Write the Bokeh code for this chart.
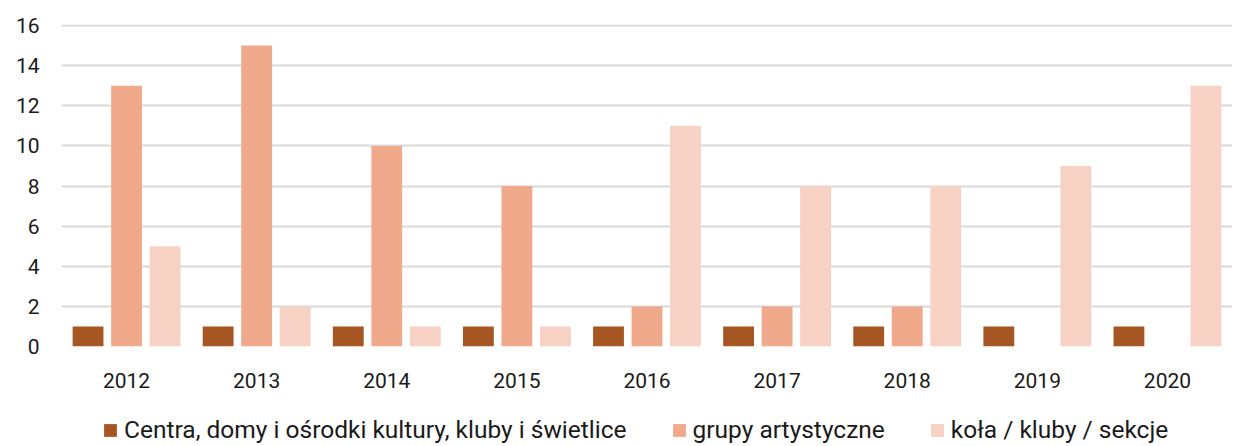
from bokeh.plotting import figure
from bokeh.models import Range1d, FactorRange, Legend, ColumnDataSource
from bokeh.layouts import column
from bokeh.transform import dodge
from bokeh.embed import file_html
from bokeh.resources import INLINE

years = ["2012", "2013", "2014", "2015", "2016", "2017", "2018", "2019", "2020"]
centra = [1, 1, 1, 1, 1, 1, 1, 1, 1]
grupy = [13, 15, 10, 8, 2, 2, 2, 0, 0]
kola = [5, 2, 1, 1, 11, 8, 8, 9, 13]
series_names = ["Centra, domy i ośrodki kultury, kluby i świetlice",
                "grupy artystyczne", "koła / kluby / sekcje"]
colors = ["#A65623", "#F0A98B", "#F7D1C3"]
keys = ["centra", "grupy", "kola"]

src = ColumnDataSource(dict(years=years, centra=centra, grupy=grupy, kola=kola))

p = figure(x_range=FactorRange(factors=years, range_padding=0), y_range=Range1d(0, 16.05),
           width=1232, height=396, output_backend="svg", toolbar_location=None,
           min_border_left=61, min_border_right=0, min_border_top=24, min_border_bottom=50)

off = 0.296
w = 0.237
for i, (k, c) in enumerate(zip(keys, colors)):
    p.vbar(x=dodge("years", (i - 1) * off, range=p.x_range), top=k, width=w,
           source=src, color=c, line_color=None)

p.outline_line_color = None
p.xgrid.grid_line_color = None
p.ygrid.grid_line_color = "#d9d9d9"
p.ygrid.grid_line_width = 2
p.yaxis.ticker = [0, 2, 4, 6, 8, 10, 12, 14, 16]
for ax in (p.xaxis[0], p.yaxis[0]):
    ax.axis_line_color = None
    ax.major_tick_line_color = None
    ax.minor_tick_line_color = None
    ax.major_label_text_font = "Roboto"
    ax.major_label_text_font_size = "21px"
    ax.major_label_text_color = "#1a1a1a"
p.yaxis.major_label_standoff = 16
p.xaxis.major_label_standoff = 20

# legend strip (placeholder renderers of zero size, outside the visible range)
lg = figure(width=1232, height=48, output_backend="svg", toolbar_location=None,
            x_axis_location=None, y_axis_location=None, min_border=0,
            x_range=Range1d(0, 1), y_range=Range1d(0, 1))
lg.outline_line_color = None
lg.grid.visible = False
dummy = ColumnDataSource(dict(x=[-5], top=[-5]))
lrs = [lg.vbar(x="x", top="top", bottom=-5, width=0, source=dummy, color=c, line_color=None)
       for c in colors]
legend = Legend(items=[(n, [r]) for n, r in zip(series_names, lrs)],
                orientation="horizontal", location=(41, 0),
                label_text_font="Roboto", label_text_font_size="24.5px",
                label_text_color="#1a1a1a", glyph_width=16, glyph_height=16,
                label_standoff=6, spacing=44, border_line_color=None,
                background_fill_alpha=0, padding=0, margin=0)
lg.add_layout(legend, "center")

layout = column(p, lg, spacing=0)
open("out.html", "w").write(file_html(layout, INLINE))
